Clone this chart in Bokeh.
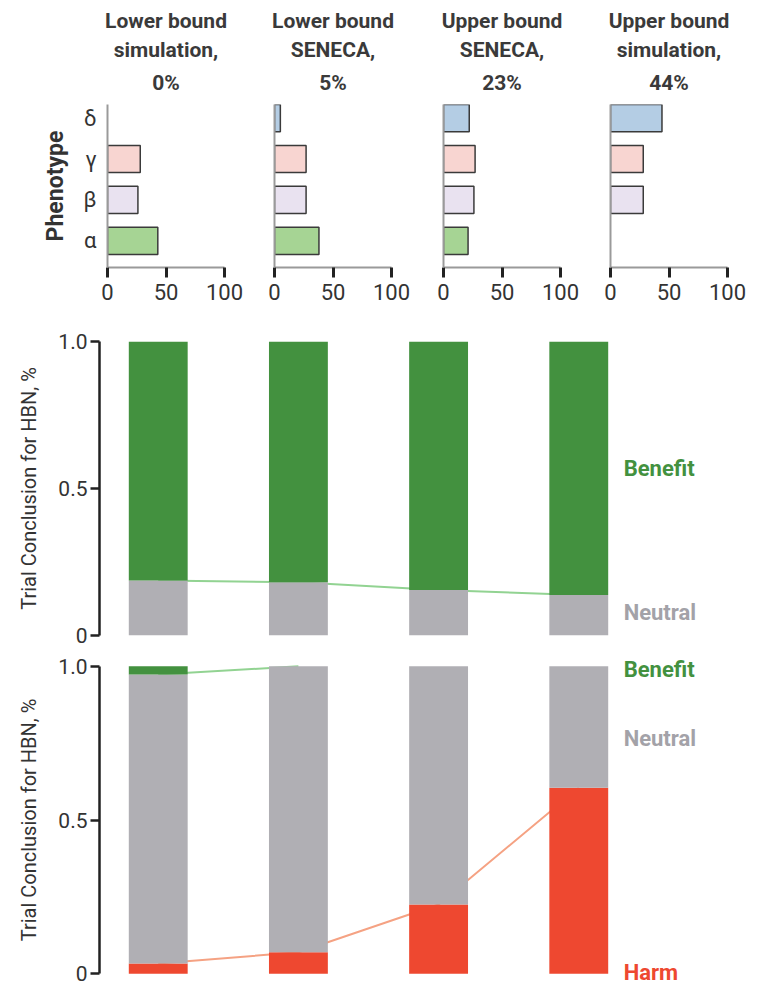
from bokeh.plotting import figure
from bokeh.layouts import column, row
from bokeh.models import Range1d, FixedTicker, Label, ColumnDataSource, Title
from bokeh.embed import file_html
from bokeh.resources import INLINE

FONT = "Roboto"
TXT = "#333333"

# ---------------- data ----------------
phenotypes = ["α", "β", "γ", "δ"]
scenario_titles = [
    ["Lower bound", "simulation,", "0%"],
    ["Lower bound", "SENECA,", "5%"],
    ["Upper bound", "SENECA,", "23%"],
    ["Upper bound", "simulation,", "44%"],
]
alpha_pct = [43, 38, 21, 0]
beta_pct = [26, 27, 26, 28]
gamma_pct = [28, 27, 27, 28]
delta_pct = [0, 5, 22, 44]
pheno_colors = ["#a6d494", "#e9e2f0", "#f8d5d1", "#b4cde4"]

# Trial conclusion, panel 1
neutral_a = [0.187, 0.181, 0.155, 0.138]
benefit_a = [0.813, 0.819, 0.845, 0.862]

# Trial conclusion, panel 2
harm_b = [0.033, 0.070, 0.225, 0.605]
neutral_b = [0.940, 0.930, 0.775, 0.395]
benefit_b = [0.027, 0.0, 0.0, 0.0]

GREEN = "#43913f"
GRAY = "#b0afb4"
RED = "#ee4830"
GREEN_LINE = "#92d392"
RED_LINE = "#f5a283"

# ---------------- top row ----------------
borders = [(107, 34), (16, 36), (16, 34), (16, 30)]
top_figs = []
for i in range(4):
    bl, br = borders[i]
    vals = [alpha_pct[i], beta_pct[i], gamma_pct[i], delta_pct[i]]
    idx = [k for k in range(4) if vals[k] > 0]
    src = ColumnDataSource(dict(y=idx, right=[vals[k] for k in idx],
                                color=[pheno_colors[k] for k in idx]))
    p = figure(width=bl + 117 + br, height=312,
               x_range=Range1d(0, 100), y_range=Range1d(-0.651, 3.332),
               output_backend="svg", toolbar_location=None,
               min_border_left=bl, min_border_right=br,
               min_border_top=104, min_border_bottom=45)
    p.title = None
    p.hbar(y="y", left=0, right="right", height=0.663, fill_color="color",
           line_color="#3a3a3a", line_width=1.5, source=src)
    for j, line in enumerate(reversed(scenario_titles[i])):
        if j == 0:
            t = Title(text=line, align="center", text_font=FONT,
                      text_font_size="21px", text_font_style="bold",
                      text_color="#3a3a3a", standoff=15, vertical_align="top")
        else:
            t = Title(text=line, align="center", text_font=FONT,
                      text_font_size="21px", text_font_style="bold",
                      text_color="#3a3a3a", standoff=3)
        p.add_layout(t, "above")
    p.grid.visible = False
    p.outline_line_color = None
    xa = p.xaxis[0]
    xa.ticker = FixedTicker(ticks=[0, 50, 100])
    xa.axis_line_color = "#9a9a9a"
    xa.axis_line_width = 2
    xa.major_tick_line_color = "#222222"
    xa.major_tick_line_width = 3
    xa.major_tick_out = 10
    xa.major_tick_in = 0
    xa.minor_tick_line_color = None
    xa.major_label_standoff = 6
    xa.major_label_text_font = FONT
    xa.major_label_text_font_size = "22px"
    xa.major_label_text_color = TXT
    ya = p.yaxis[0]
    ya.axis_line_color = "#9a9a9a"
    ya.axis_line_width = 2
    ya.major_tick_line_color = None
    ya.minor_tick_line_color = None
    ya.major_tick_out = 0
    ya.major_tick_in = 0
    if i == 0:
        ya.ticker = FixedTicker(ticks=[0, 1, 2, 3])
        ya.major_label_overrides = {k: phenotypes[k] for k in range(4)}
        ya.major_label_standoff = 11
        ya.major_label_text_font = FONT
        ya.major_label_text_font_size = "22px"
        ya.major_label_text_color = TXT
        ya.axis_label = "Phenotype"
        ya.axis_label_text_font = FONT
        ya.axis_label_text_font_size = "23px"
        ya.axis_label_text_font_style = "bold"
        ya.axis_label_text_color = TXT
        ya.axis_label_standoff = 11
    else:
        ya.ticker = FixedTicker(ticks=[])
        ya.major_label_standoff = 0
    top_figs.append(p)


# ---------------- conclusion charts ----------------
def base_fig(height, border_top, border_bottom, y_start, y_end):
    p = figure(width=757, height=height,
               x_range=Range1d(-0.419, 4.275), y_range=Range1d(y_start, y_end),
               output_backend="svg", toolbar_location=None,
               min_border_left=99, min_border_right=0,
               min_border_top=border_top, min_border_bottom=border_bottom)
    p.title = None
    p.grid.visible = False
    p.outline_line_color = None
    p.xaxis.visible = False
    ya = p.yaxis[0]
    ya.bounds = (0, 1)
    ya.ticker = FixedTicker(ticks=[0, 0.5, 1.0])
    ya.major_label_overrides = {0: "0", 0.5: "0.5", 1: "1.0"}
    ya.axis_line_color = "#222222"
    ya.axis_line_width = 2.5
    ya.major_tick_line_color = "#222222"
    ya.major_tick_line_width = 2.5
    ya.major_tick_out = 9
    ya.major_tick_in = 0
    ya.minor_tick_line_color = None
    ya.major_label_standoff = 3
    ya.major_label_text_font = FONT
    ya.major_label_text_font_size = "21px"
    ya.major_label_text_color = TXT
    ya.axis_label = "Trial Conclusion for HBN, %"
    ya.axis_label_text_font = FONT
    ya.axis_label_text_font_size = "20px"
    ya.axis_label_text_font_style = "normal"
    ya.axis_label_text_color = TXT
    ya.axis_label_standoff = 14
    return p


def add_label(p, x, y, text, color):
    p.add_layout(Label(x=x, y=y, text=text, text_color=color, text_font=FONT,
                       text_font_size="22px", text_font_style="bold",
                       text_baseline="middle", text_align="left"))


xs = [0, 1, 2, 3]
BW = 0.42

# middle chart (frame 294 px tall for 0..1)
mid = base_fig(height=337, border_top=29, border_bottom=14, y_start=0, y_end=1.0)
mid.line(xs, neutral_a, line_color=GREEN_LINE, line_width=2)
mid.vbar(x=xs, width=BW, bottom=0, top=neutral_a, fill_color=GRAY, line_color=None)
mid.vbar(x=xs, width=BW, bottom=neutral_a,
         top=[n + b for n, b in zip(neutral_a, benefit_a)],
         fill_color=GREEN, line_color=None)
add_label(mid, 3.32, neutral_a[3] + benefit_a[3] / 2, "Benefit", GREEN)
add_label(mid, 3.32, neutral_a[3] / 2 + 0.01, "Neutral", "#a3a2a8")

# bottom chart (307 px per unit; frame spans -0.035..1.035)
bot = base_fig(height=337, border_top=6, border_bottom=2, y_start=-0.035, y_end=1.035)
neutral_top_b = [h + n for h, n in zip(harm_b, neutral_b)]
gx = [i for i in xs if benefit_b[i] > 0 or (i > 0 and benefit_b[i - 1] > 0)]
bot.line(gx, [neutral_top_b[i] for i in gx], line_color=GREEN_LINE, line_width=2)
bot.line(xs, harm_b, line_color=RED_LINE, line_width=2)
bot.vbar(x=xs, width=BW, bottom=0, top=harm_b, fill_color=RED, line_color=None)
bot.vbar(x=xs, width=BW, bottom=harm_b, top=neutral_top_b, fill_color=GRAY, line_color=None)
bot.vbar(x=xs, width=BW, bottom=neutral_top_b,
         top=[t + b for t, b in zip(neutral_top_b, benefit_b)],
         fill_color=GREEN, line_color=None)
add_label(bot, 3.32, 0.99, "Benefit", GREEN)
add_label(bot, 3.32, 0.765, "Neutral", "#a3a2a8")
add_label(bot, 3.32, 0.005, "Harm", RED)

layout = column(row(*top_figs), mid, bot)
open("out.html", "w").write(file_html(layout, INLINE))
